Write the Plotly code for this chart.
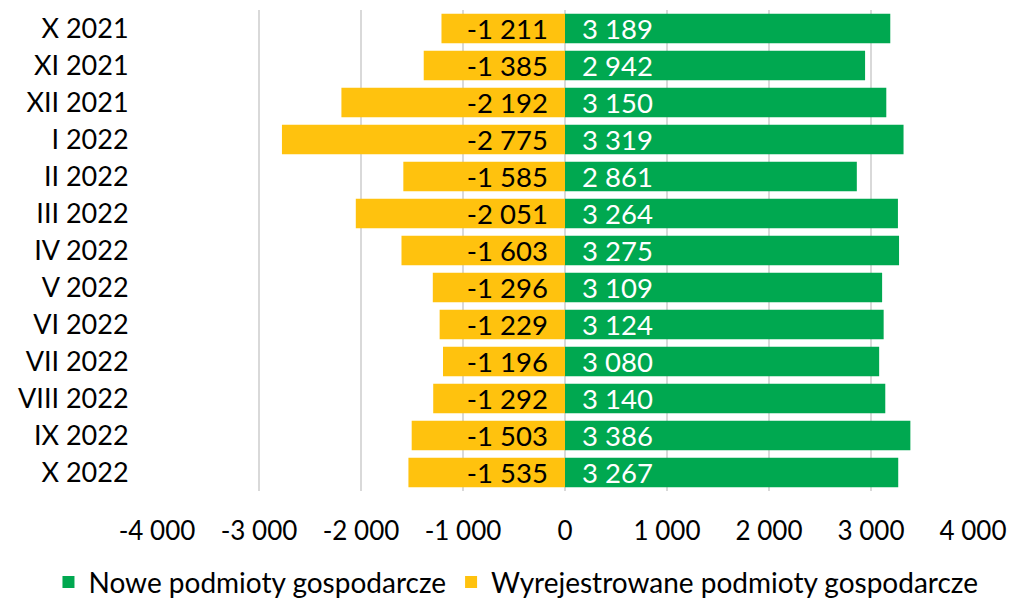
import plotly.graph_objects as go

months = ["X 2021", "XI 2021", "XII 2021", "I 2022", "II 2022", "III 2022", "IV 2022",
          "V 2022", "VI 2022", "VII 2022", "VIII 2022", "IX 2022", "X 2022"]
nowe = [3189, 2942, 3150, 3319, 2861, 3264, 3275, 3109, 3124, 3080, 3140, 3386, 3267]
wyrej = [-1211, -1385, -2192, -2775, -1585, -2051, -1603, -1296, -1229, -1196, -1292, -1503, -1535]
tick_vals = [-4000, -3000, -2000, -1000, 0, 1000, 2000, 3000, 4000]

PAD = "\u00a0\u00a0"


def fmt(v):
    s = f"{abs(v):,}".replace(",", " ")
    return ("-" if v < 0 else "") + s


fig = go.Figure()
fig.add_trace(go.Bar(
    y=months, x=nowe, orientation="h", name="Nowe podmioty gospodarcze",
    marker=dict(color="#00A850", line=dict(width=0)),
    text=[PAD + fmt(v) for v in nowe], textposition="inside", insidetextanchor="start",
    constraintext="none",
    textfont=dict(color="white", size=27.5, family="Lato"), width=0.8,
))
fig.add_trace(go.Bar(
    y=months, x=wyrej, orientation="h", name="Wyrejestrowane podmioty gospodarcze",
    marker=dict(color="#FFC20E", line=dict(width=0)),
    text=[fmt(v) + PAD for v in wyrej], textposition="inside", insidetextanchor="start",
    constraintext="none",
    textfont=dict(color="black", size=27.5, family="Lato"), width=0.8,
))

fig.update_layout(
    width=1012, height=598,
    barmode="relative",
    font=dict(family="Lato", size=27, color="black"),
    margin=dict(l=157, r=39, t=10, b=107, autoexpand=False),
    plot_bgcolor="white", paper_bgcolor="white",
    xaxis=dict(range=[-4000, 4000], tickvals=tick_vals, ticktext=[fmt(v) for v in tick_vals],
               showgrid=True, gridcolor="#D9D9D9", gridwidth=1.5, zeroline=True,
               zerolinecolor="#D9D9D9", zerolinewidth=1.5, showline=False,
               ticks="outside", ticklen=17, tickcolor="rgba(0,0,0,0)",
               tickfont=dict(size=26), automargin=False),
    yaxis=dict(autorange="reversed", showgrid=False, ticks="outside", ticklen=22,
               tickcolor="rgba(0,0,0,0)", tickfont=dict(size=27), automargin=False),
    legend=dict(orientation="h", x=-0.133, xanchor="left", y=-0.19, yanchor="middle",
                font=dict(size=28), traceorder="normal", itemwidth=30),
    showlegend=True,
)

fig.write_html(
    "out.html",
    config={"displayModeBar": False},
    post_script="document.body.style.margin='0';document.body.style.overflow='hidden';",
)
